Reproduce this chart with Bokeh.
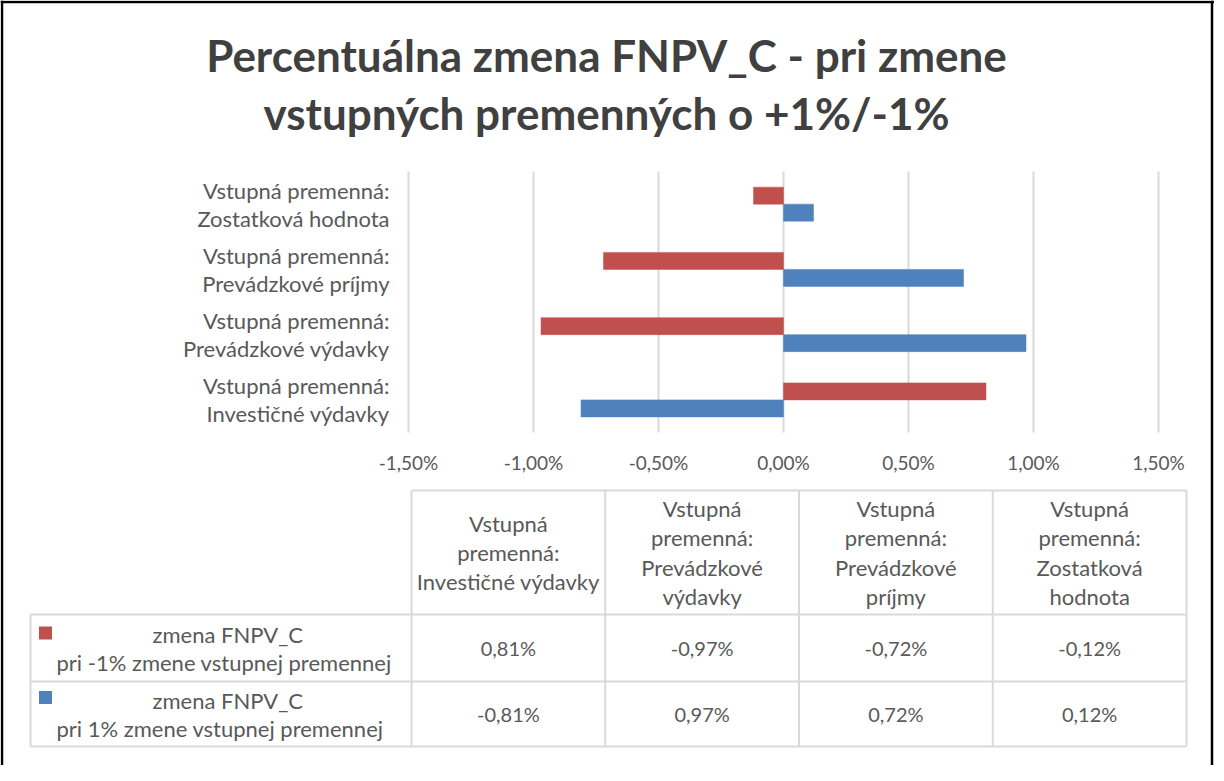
from bokeh.plotting import figure
from bokeh.models import Range1d
from bokeh.core.properties import value
from bokeh.embed import file_html
from bokeh.resources import INLINE

# ---------------- data ----------------
title_lines = ["Percentuálna zmena FNPV_C - pri zmene", "vstupných premenných o +1%/-1%"]
categories = [
    "Vstupná premenná:\nInvestičné výdavky",
    "Vstupná premenná:\nPrevádzkové výdavky",
    "Vstupná premenná:\nPrevádzkové príjmy",
    "Vstupná premenná:\nZostatková hodnota",
]
header_labels = [
    "Vstupná\npremenná:\nInvestičné výdavky",
    "Vstupná\npremenná:\nPrevádzkové\nvýdavky",
    "Vstupná\npremenná:\nPrevádzkové\npríjmy",
    "Vstupná\npremenná:\nZostatková\nhodnota",
]
series_names = [
    "zmena FNPV_C\npri -1% zmene vstupnej premennej",
    "zmena FNPV_C\npri 1% zmene vstupnej premennej",
]
series_minus = [0.81, -0.97, -0.72, -0.12]   # pri -1% zmene
series_plus = [-0.81, 0.97, 0.72, 0.12]      # pri 1% zmene
series_colors = ["#C0504D", "#4F81BD"]
ticks = [-1.5, -1.0, -0.5, 0.0, 0.5, 1.0, 1.5]

def fmt(v):
    return f"{v:.2f}".replace(".", ",") + "%"

# ---------------- layout (canvas pixels) ----------------
W, H = 1214, 765
PL, PR = 408, 1158          # plot area x (canvas)
PT, PB = 171, 432           # plot area y (canvas)
XMIN, XMAX = ticks[0], ticks[-1]
ncat = len(categories)
band = (PB - PT) / ncat
xscale = (XMAX - XMIN) / (PR - PL)

FONT = value("Lato")
TXT = "#595959"
GRID = "#d9d9d9"
TS = "22px"    # text size
NS = "20px"    # number size

p = figure(width=W, height=H, output_backend="svg", toolbar_location=None,
           x_range=Range1d(XMIN - PL * xscale, XMAX + (W - PR) * xscale),
           y_range=Range1d(-(H - PB) / band, ncat + PT / band),
           x_axis_type=None, y_axis_type=None, min_border=0)
p.extra_x_ranges = {"px": Range1d(0, W)}
p.extra_y_ranges = {"py": Range1d(H, 0)}
p.grid.visible = False
p.outline_line_color = None
p.background_fill_color = "white"
p.border_fill_color = "white"

# border (left, top, right)
p.segment(x0=[1.5, 0, W - 2.5], y0=[0, 1.5, 0], x1=[1.5, W, W - 2.5], y1=[H, 1.5, H],
          line_color="black", line_width=2.5, x_range_name="px", y_range_name="py")

# title
TY = [54, 112]
p.text(x=[W / 2 - 1] * 2, y=TY, text=title_lines, x_range_name="px", y_range_name="py",
       text_font=FONT, text_font_style="bold", text_font_size="44px", text_color="#404040",
       text_align="center", text_baseline="middle")

# vertical gridlines
p.segment(x0=ticks, y0=[0] * len(ticks), x1=ticks, y1=[ncat] * len(ticks),
          line_color=GRID, line_width=2)

# bars
centers = [i + 0.5 for i in range(ncat)]
bh = 17 / band
p.hbar(y=[c + bh / 2 for c in centers], left=0, right=series_minus, height=bh,
       fill_color=series_colors[0], line_color=series_colors[0], line_width=0.5)
p.hbar(y=[c - bh / 2 for c in centers], left=0, right=series_plus, height=bh,
       fill_color=series_colors[1], line_color=series_colors[1], line_width=0.5)

# x tick labels
p.text(x=ticks, y=[PB + 30] * len(ticks), text=[fmt(t) for t in ticks], y_range_name="py",
       text_font=FONT, text_font_size="19px", text_color=TXT,
       text_align="center", text_baseline="middle")

# category labels
for k, off in enumerate([-14, 14]):
    p.text(x=[PL - 19] * ncat, y=centers, text=[c.split("\n")[k] for c in categories],
           y_offset=off, x_range_name="px",
           text_font=FONT, text_font_size=TS, text_color=TXT,
           text_align="right", text_baseline="middle")

# ---------------- data table ----------------
TL, TC0, TR = 30, 411, 1186
ncol = len(header_labels)
cw = (TR - TC0) / ncol
colx = [TC0 + i * cw for i in range(ncol + 1)]
rows = [490, 614, 681, 746]
LS = 29.3

# lines
hx0 = [TC0, TL, TL, TL]
p.segment(x0=hx0, y0=rows, x1=[TR] * 4, y1=rows, line_color=GRID, line_width=2,
          x_range_name="px", y_range_name="py")
p.segment(x0=[TL] + colx, y0=[rows[1]] + [rows[0]] * len(colx),
          x1=[TL] + colx, y1=[rows[3]] * (len(colx) + 1),
          line_color=GRID, line_width=2, x_range_name="px", y_range_name="py")

# header texts
hx, hy, ht = [], [], []
hc = (rows[0] + rows[1]) / 2
for i, lab in enumerate(header_labels):
    parts = lab.split("\n")
    n = len(parts)
    for j, s in enumerate(parts):
        hx.append(colx[i] + cw / 2)
        hy.append(hc + (j - (n - 1) / 2) * LS)
        ht.append(s)
p.text(x=hx, y=hy, text=ht, x_range_name="px", y_range_name="py",
       text_font=FONT, text_font_size=TS, text_color=TXT,
       text_align="center", text_baseline="middle")

# series rows
for r, (name, vals, col) in enumerate(zip(series_names, [series_minus, series_plus], series_colors)):
    rc = (rows[r + 1] + rows[r + 2]) / 2
    l1, l2 = name.split("\n")
    p.text(x=[TL + 122], y=[rc - 14], text=[l1], x_range_name="px", y_range_name="py",
           text_font=FONT, text_font_size=TS, text_color=TXT,
           text_align="left", text_baseline="middle")
    p.text(x=[TL + 26], y=[rc + 14], text=[l2], x_range_name="px", y_range_name="py",
           text_font=FONT, text_font_size=TS, text_color=TXT,
           text_align="left", text_baseline="middle")
    p.rect(x=[TL + 15], y=[rc - 15 - 1.5 * r], width=13, height=13, fill_color=col, line_color=None,
           x_range_name="px", y_range_name="py")
    p.text(x=[colx[i] + cw / 2 for i in range(ncol)], y=[rc] * ncol,
           text=[fmt(v) for v in vals], x_range_name="px", y_range_name="py",
           text_font=FONT, text_font_size=NS, text_color=TXT,
           text_align="center", text_baseline="middle")

open("out.html", "w").write(file_html(p, INLINE))
